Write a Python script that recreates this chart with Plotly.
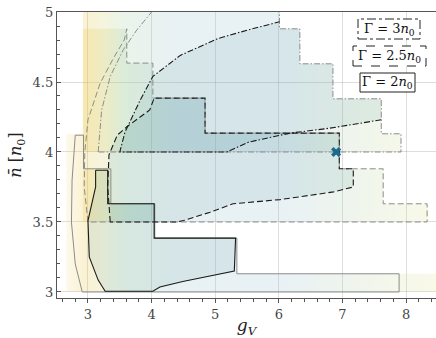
import plotly.graph_objects as go

# ---------------- data ----------------
# heat-map extents (filled areas) for each Gamma
fill2_x = [2.66, 2.66, 2.93, 2.93, 3.36, 3.36, 4.05, 4.05, 5.34, 5.34, 8.5, 8.5]
fill2_y = [3.0, 4.13, 4.13, 3.88, 3.88, 3.63, 3.63, 3.385, 3.385, 3.13, 3.13, 3.0]
fill25_x = [2.92, 2.92, 3.61, 3.61, 4.02, 4.02, 4.84, 4.84, 6.95, 6.95, 7.64, 7.64, 8.35, 8.35]
fill25_y = [3.5, 4.88, 4.88, 4.635, 4.635, 4.385, 4.385, 4.135, 4.135, 3.88, 3.88, 3.63, 3.63, 3.5]
fill3_x = [2.92, 2.92, 6.01, 6.01, 6.33, 6.33, 6.85, 6.85, 7.61, 7.61, 7.92, 7.92]
fill3_y = [4.0, 5.1, 5.1, 4.88, 4.88, 4.63, 4.63, 4.38, 4.38, 4.13, 4.13, 4.0]

# outer (grey) contours
out2_x = [2.91, 2.80, 2.74, 2.75, 2.80, 2.93, 2.93, 3.36, 3.36, 4.05, 4.05, 5.34, 5.34, 7.89, 7.89, 2.91]
out2_y = [3.0, 3.2, 3.5, 3.8, 4.12, 4.12, 3.88, 3.88, 3.63, 3.63, 3.385, 3.385, 3.13, 3.13, 3.0, 3.0]
out25_x = [3.0, 2.94, 2.95, 3.0, 3.19, 3.40, 3.57, 3.61, 3.61, 4.02, 4.02, 4.84, 4.84, 6.95, 6.95, 7.64, 7.64, 8.33, 8.33, 3.0]
out25_y = [3.5, 3.75, 4.0, 4.23, 4.49, 4.67, 4.8, 4.88, 4.635, 4.635, 4.385, 4.385, 4.135, 4.135, 3.88, 3.88, 3.63, 3.63, 3.5, 3.5]
out3_x = [3.16, 3.215, 3.35, 3.555, 3.765, 4.0, 4.1, 6.01, 6.01, 6.33, 6.33, 6.85, 6.85, 7.61, 7.61, 7.92, 7.92, 3.16]
out3_y = [4.0, 4.30, 4.54, 4.73, 4.87, 5.0, 5.1, 5.1, 4.88, 4.88, 4.63, 4.63, 4.38, 4.38, 4.13, 4.13, 4.0, 4.0]

# inner (black) contours
in2_x = [3.12, 3.31, 3.31, 4.04, 4.04, 5.32, 5.30, 5.0, 4.76, 4.49, 4.24, 4.13, 4.02, 3.27, 3.16, 3.02, 3.0, 3.12, 3.12]
in2_y = [3.87, 3.87, 3.63, 3.63, 3.385, 3.385, 3.15, 3.12, 3.10, 3.075, 3.045, 3.035, 3.005, 3.005, 3.085, 3.25, 3.51, 3.75, 3.87]
in25_x = [3.35, 3.31, 3.33, 3.46, 3.61, 3.97, 4.04, 4.84, 4.84, 6.95, 6.95, 7.17, 7.17, 6.86, 6.33, 6.02, 5.28, 4.92, 4.50, 4.4, 3.35]
in25_y = [3.5, 3.75, 3.98, 4.12, 4.18, 4.3, 4.385, 4.385, 4.135, 4.135, 3.88, 3.88, 3.75, 3.715, 3.68, 3.66, 3.63, 3.57, 3.51, 3.5, 3.5]
in3_x = [7.61, 6.8, 6.18, 5.52, 5.18, 3.50, 3.58, 3.82, 4.02, 4.45, 5.04, 5.5, 6.01]
in3_y = [4.23, 4.17, 4.135, 4.07, 4.0, 4.0, 4.14, 4.37, 4.54, 4.69, 4.81, 4.87, 4.93]
in3_close_x = [6.01, 6.33, 6.33, 6.85, 6.85, 7.61, 7.61]
in3_close_y = [4.88, 4.88, 4.63, 4.63, 4.38, 4.38, 4.23]

point_x = [6.9]
point_y = [4.0]

labels = ["Γ = 3<i>n</i><sub>0</sub>", "Γ = 2.5<i>n</i><sub>0</sub>", "Γ = 2<i>n</i><sub>0</sub>"]
label_dash = ["dashdot", "dash", "solid"]

x_ticks = [3, 4, 5, 6, 7, 8]
y_ticks = [3, 3.5, 4, 4.5, 5]

# ---------------- figure ----------------
SERIF = "DejaVu Serif"
A = 0.22
def cs(a):
    return [
        [0.0, f"rgba(240,215,120,{a * 0.6})"],
        [0.06, f"rgba(235,200,70,{a * 1.1})"],
        [0.11, f"rgba(210,205,105,{a})"],
        [0.17, f"rgba(160,205,160,{a})"],
        [0.30, f"rgba(150,192,200,{a})"],
        [0.58, f"rgba(152,192,208,{a})"],
        [0.80, f"rgba(185,212,170,{a})"],
        [1.0, f"rgba(228,228,150,{a})"],
    ]

fig = go.Figure()

for fx, fy in [(fill2_x, fill2_y), (fill25_x, fill25_y), (fill3_x, fill3_y)]:
    fig.add_trace(go.Scatter(
        x=fx, y=fy, mode="none", fill="toself",
        fillgradient=dict(type="horizontal", colorscale=cs(A), start=2.6, stop=8.45),
        hoverinfo="skip", showlegend=False))

inner_fill = "rgba(45,125,140,0.1)"
fig.add_trace(go.Scatter(x=in2_x, y=in2_y, mode="none", fill="toself",
                         fillcolor=inner_fill, hoverinfo="skip", showlegend=False))
fig.add_trace(go.Scatter(x=in25_x, y=in25_y, mode="none", fill="toself",
                         fillcolor=inner_fill, hoverinfo="skip", showlegend=False))
fig.add_trace(go.Scatter(x=in3_x + in3_close_x, y=in3_y + in3_close_y, mode="none", fill="toself",
                         fillcolor=inner_fill, hoverinfo="skip", showlegend=False))

grey = "#8c8c8c"
for ox, oy, d in [(out2_x, out2_y, "solid"), (out25_x, out25_y, "6px,3px"), (out3_x, out3_y, "6px,2px,1.5px,2px")]:
    fig.add_trace(go.Scatter(x=ox, y=oy, mode="lines", line=dict(color=grey, width=1, dash=d),
                             hoverinfo="skip", showlegend=False))

black = "#1a1a1a"
for ix, iy, d in [(in2_x, in2_y, "solid"), (in25_x, in25_y, "6px,3px"), (in3_x, in3_y, "6px,2px,1.5px,2px")]:
    fig.add_trace(go.Scatter(x=ix, y=iy, mode="lines", line=dict(color=black, width=1.1, dash=d),
                             hoverinfo="skip", showlegend=False))

fig.add_trace(go.Scatter(x=point_x, y=point_y, mode="markers",
                         marker=dict(symbol="x", size=9, color="#1c6b8c", line=dict(width=0)),
                         hoverinfo="skip", showlegend=False))

W, H = 436, 338
ml, mr, mt, mb = 57, 0, 12, 40
pw, ph = W - ml - mr, H - mt - mb
def px(x):
    return (x - ml) / pw
def py(y):
    return (H - mb - y) / ph

boxes = [(358, 420, 19, 39), (353, 426, 46, 66), (360, 415, 73, 92)]
for (x0, x1, y0, y1), lab, d in zip(boxes, labels, label_dash):
    fig.add_shape(type="rect", xref="paper", yref="paper",
                  x0=px(x0), x1=px(x1), y0=py(y1), y1=py(y0),
                  line=dict(color="#222", width=1, dash=d), fillcolor="white")
    fig.add_annotation(xref="paper", yref="paper", x=px((x0 + x1) / 2), y=py((y0 + y1) / 2),
                       text=lab, showarrow=False, xanchor="center", yanchor="middle",
                       font=dict(family=SERIF, size=13, color="#111"))

fig.update_layout(
    width=W, height=H, margin=dict(l=ml, r=mr, t=mt, b=mb),
    plot_bgcolor="white", paper_bgcolor="white",
    font=dict(family=SERIF, size=13, color="#444"),
    xaxis=dict(range=[2.513, 8.47], tickvals=x_ticks, ticktext=[str(v) for v in x_ticks],
               tickfont=dict(family=SERIF, size=13, color="#444"),
               showgrid=True, gridcolor="rgba(0,0,0,0.13)", gridwidth=1, zeroline=False,
               showline=True, linecolor="#555", linewidth=1.3, mirror=True,
               ticks="outside", ticklen=4, tickcolor="#555",
               minor=dict(dtick=0.2, ticks="outside", ticklen=2.5, tickcolor="#555", showgrid=False),
               title=dict(text="<i>g</i><sub><i>V</i></sub>", standoff=4,
                          font=dict(family=SERIF, size=17, color="#222"))),
    yaxis=dict(range=[2.957, 5.0], tickvals=y_ticks, ticktext=["3", "3.5", "4", "4.5", "5"],
               tickfont=dict(family=SERIF, size=13, color="#444"),
               showgrid=True, gridcolor="rgba(0,0,0,0.13)", gridwidth=1, zeroline=False,
               showline=True, linecolor="#555", linewidth=1.3,
               ticks="inside", ticklen=4, tickcolor="#555",
               minor=dict(dtick=0.1, ticks="inside", ticklen=2.5, tickcolor="#555", showgrid=False),
               title=dict(text="<i>n̄</i> [<i>n</i><sub>0</sub>]", standoff=6,
                          font=dict(family=SERIF, size=16, color="#222"))),
)

fig.write_html("out.html")
